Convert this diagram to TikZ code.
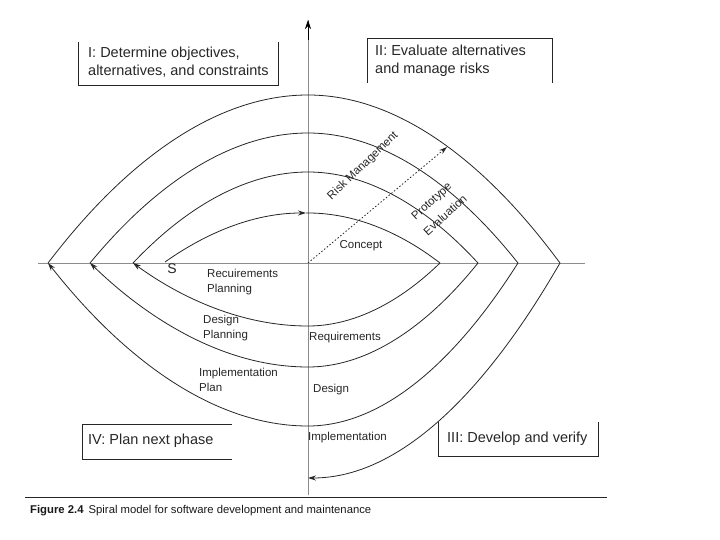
\documentclass[tikz,border=0pt]{standalone}
\usepackage{fontspec}
\setmainfont{Liberation Sans}
\usetikzlibrary{arrows.meta}
\begin{document}
\begin{tikzpicture}[x=1pt,y=-1pt,
  spiral/.style={line width=0.8pt, black!85},
  axis/.style={line width=0.7pt, black!45},
  frame/.style={line width=0.8pt, black!85},
  big/.style={font=\fontsize{14.5}{18.5}\selectfont, inner sep=0pt, align=left, anchor=west, text=black!85},
  small/.style={font=\fontsize{11.5}{14.5}\selectfont, inner sep=0pt, align=left, anchor=west, text=black!85},
  tip/.style={-{Stealth[length=8pt,width=5pt]}},
]
\useasboundingbox (0,0) rectangle (720,540);
% axes
\coordinate (O) at (308,263);
\coordinate (Ytop) at (308,20);
\coordinate (Ybot) at (308,495);
\coordinate (Xl) at (38,263);
\coordinate (Xr) at (585,263);
\draw[axis] (Xl) -- (Xr);
\draw[axis] (Ybot) -- (Ytop);
\draw[line width=0.7pt, black, -{Stealth[length=9pt,width=6pt]}] (308,40) -- (Ytop);
% spiral points
\coordinate (A0) at (165,262);
\coordinate (A1) at (133,263);
\coordinate (A2) at (90,263);
\coordinate (A3) at (48,263);
\coordinate (B1) at (440,263);
\coordinate (B2) at (478,263);
\coordinate (B3) at (518,263);
\coordinate (B4) at (560,263);
\coordinate (T1) at (306,213);
\coordinate (T1b) at (308,213);
\coordinate (T2) at (308,172);
\coordinate (T3) at (308,133);
\coordinate (T4) at (308,95);
\coordinate (D1) at (308,326);
\coordinate (D2) at (308,367);
\coordinate (D3) at (308,426);
\coordinate (D4) at (308,478);
% spiral
\draw[spiral, tip] (A0) parabola[bend at end] (T1);
\draw[spiral] (T1) -- (T1b) parabola (B1);
\draw[spiral, tip] (B1) parabola[bend at end] (D1) parabola (A1);
\draw[spiral] (A1) parabola[bend at end] (T2) parabola (B2);
\draw[spiral, tip] (B2) parabola[bend at end] (D2) parabola (A2);
\draw[spiral] (A2) parabola[bend at end] (T3) parabola (B3);
\draw[spiral, tip] (B3) parabola[bend at end] (D3) parabola (A3);
\draw[spiral] (A3) parabola[bend at end] (T4) parabola (B4);
\draw[spiral, tip] (B4) parabola[bend at end] (D4);
% dotted arrow
\coordinate (P) at (447,147);
\draw[line width=0.8pt, black!85, dash pattern=on 1.5pt off 2pt, tip] (O) -- (P);
% quadrant frames
\draw[frame] (78,42) -- (78,85) -- (278,85) -- (278,42);
\draw[frame] (367,83) -- (367,38) -- (552,38) -- (552,83);
\draw[frame] (438,422) -- (438,456) -- (598,456) -- (598,422);
\draw[frame] (232,424) -- (82,424) -- (82,459) -- (232,459);
\node[big] (q1) at (88,62) {I: Determine objectives,\\alternatives, and constraints};
\node[big] (q2) at (375,61) {II: Evaluate alternatives\\and manage risks};
\node[big] (q3) at (447,439) {III: Develop and verify};
\node[big] (q4) at (88,441) {IV: Plan next phase};
% labels
\node[small, anchor=center, rotate=44] (risk) at (363,166) {Risk Management};
\node[small, anchor=center, rotate=42] (proto) at (432,202) {Prototype};
\node[small, anchor=center, rotate=42] (eval) at (445,215) {Evaluation};
\node[small, anchor=center] (concept) at (361,246) {Concept};
\node[small] (rp) at (207,282) {Recuirements\\Planning};
\node[small] (dp) at (203,328) {Design\\Planning};
\node[small] (ip) at (199,380) {Implementation\\Plan};
\node[small, anchor=center] (req) at (345,338) {Requirements};
\node[small] (des) at (313,390) {Design};
\node[small] (impl) at (308,438) {Implementation};
\node[font=\fontsize{14}{16}\selectfont, inner sep=0pt, text=black!85] (s) at (172,269) {S};
% caption
\draw[line width=0.8pt, black!85] (25,497) -- (607,497);
\node[font=\fontsize{11.3}{13}\selectfont, inner sep=0pt, anchor=west, text=black!90] (cap) at (30,511) {\textbf{Figure 2.4}\hspace{0.45em}Spiral model for software development and maintenance};
\end{tikzpicture}
\end{document}
